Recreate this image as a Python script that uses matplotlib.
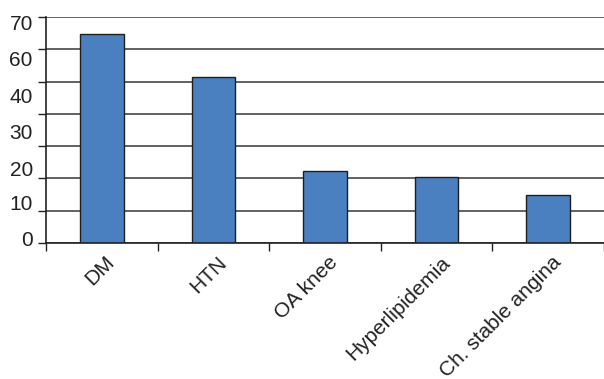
import matplotlib
matplotlib.use("Agg")
import matplotlib.pyplot as plt
import numpy as np

categories = ["DM", "HTN", "OA knee", "Hyperlipidemia", "Ch. stable angina"]
values = [64.7, 51.5, 22.4, 20.5, 14.9]
grid_values = [0, 10, 20, 30, 40, 50, 60, 70]
ytick_labels = ["0", "10", "20", "30", "40", "60", "70"]
ytick_label_pos = [1.5, 12.4, 23.2, 34.4, 45.8, 57.3, 68.4]

plt.rcParams['font.family'] = ['Liberation Sans', 'DejaVu Sans']

fig = plt.figure(figsize=(6.04, 3.79), dpi=100)
ax = fig.add_axes([46/604, 1 - 243/379, 1 - 46/604, (243 - 17)/379])

x = np.arange(len(categories))
ax.bar(x, values, width=0.39, color="#4A80C0", edgecolor="#1f1f1f", linewidth=1.0, zorder=3)

ax.set_ylim(0, 70)
ax.set_xlim(-0.5, 4.5 - 12/114)

ax.set_yticks(grid_values)
ax.set_yticklabels([])
ax.tick_params(axis='y', which='major', length=6, width=1.0, color='#222222', direction='out')
ax.yaxis.grid(True, which='major', color='#555555', linewidth=1.3, zorder=0)

ax.set_yticks(ytick_label_pos, minor=True)
ax.set_yticklabels(ytick_labels, minor=True)
ax.tick_params(axis='y', which='minor', length=0, pad=9.5, labelsize=15, labelcolor='#222222')

ax.set_xticks(np.arange(-0.5, len(categories), 1.0))
ax.set_xticklabels([])
ax.tick_params(axis='x', which='major', length=6, width=1.0, color='#222222', direction='out')
ax.set_xticks(x + 0.03, minor=True)
ax.set_xticklabels(categories, minor=True, rotation=45, ha='right', rotation_mode='anchor')
ax.tick_params(axis='x', which='minor', length=0, pad=7, labelsize=15, labelcolor='#222222')

for s in ['top', 'right']:
    ax.spines[s].set_visible(False)
for s in ['left', 'bottom']:
    ax.spines[s].set_color('#222222')
    ax.spines[s].set_linewidth(1.2)
    ax.spines[s].set_zorder(4)

fig.savefig("out.png", dpi=100)
